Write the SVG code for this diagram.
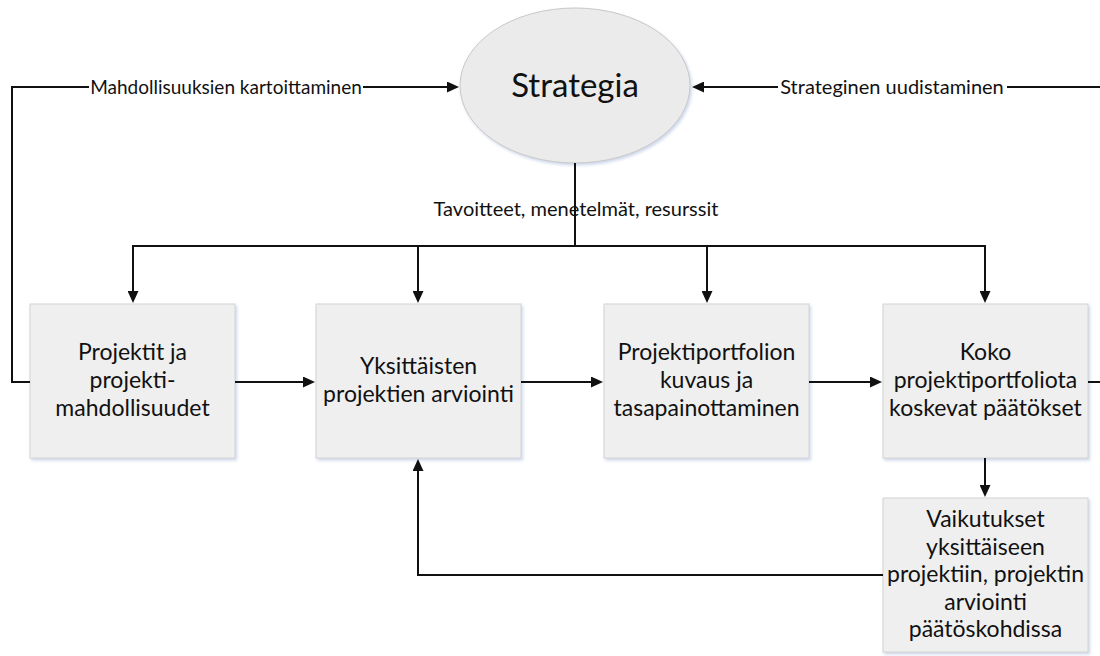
<svg xmlns="http://www.w3.org/2000/svg" width="1100" height="656" viewBox="0 0 1100 656">
  <style>
    .box { fill: #efefef; stroke: #d4d4d4; stroke-width: 1; filter: url(#shade); }
    .oval { fill: #ebebeb; stroke: #c8c8c8; stroke-width: 1; filter: url(#shade); }
    .t { font-family: Lato, "Open Sans", "Liberation Sans", sans-serif; fill: #111; text-anchor: middle; }
    .node { font-size: 23px; }
    .lbl { font-size: 20px; }
    .lbl-s { font-size: 19px; }
    .title { font-size: 33px; }
    .wire { fill: none; stroke: #111; stroke-width: 2; }
    .arrow { marker-end: url(#head); }
  </style>
  <defs>
    <filter id="shade" x="-10%" y="-10%" width="125%" height="125%">
      <feDropShadow dx="1.5" dy="2" stdDeviation="1.5" flood-color="#8fa6d0" flood-opacity="0.45"/>
    </filter>
    <marker id="head" viewBox="0 0 12 11" refX="6" refY="5.5" markerWidth="12" markerHeight="11" markerUnits="userSpaceOnUse" orient="auto">
      <path d="M0,0 L12,5.5 L0,11 Z" fill="#111"/>
    </marker>
  </defs>

  <rect width="1100" height="656" fill="#fff"/>

  <!-- nodes -->
  <g id="strategia">
    <ellipse class="oval" cx="575" cy="85.5" rx="115" ry="77.5"/>
    <text class="t title" x="575" y="97">Strategia</text>
  </g>

  <g id="projektit">
    <rect class="box" x="30" y="304" width="205" height="154"/>
    <text class="t node" x="132.5" y="360">Projektit ja</text>
    <text class="t node" x="132.5" y="388">projekti-</text>
    <text class="t node" x="132.5" y="416">mahdollisuudet</text>
  </g>

  <g id="arviointi">
    <rect class="box" x="316" y="304" width="205" height="154"/>
    <text class="t node" x="418.5" y="374">Yksittäisten</text>
    <text class="t node" x="418.5" y="402">projektien arviointi</text>
  </g>

  <g id="portfolio">
    <rect class="box" x="604" y="304" width="205" height="154"/>
    <text class="t node" x="706.5" y="360">Projektiportfolion</text>
    <text class="t node" x="706.5" y="388">kuvaus ja</text>
    <text class="t node" x="706.5" y="416">tasapainottaminen</text>
  </g>

  <g id="paatokset">
    <rect class="box" x="883" y="304" width="205" height="154"/>
    <text class="t node" x="985.5" y="360">Koko</text>
    <text class="t node" x="985.5" y="388">projektiportfoliota</text>
    <text class="t node" x="985.5" y="416">koskevat päätökset</text>
  </g>

  <g id="vaikutukset">
    <rect class="box" x="883" y="498" width="205" height="154"/>
    <text class="t node" x="985.5" y="527">Vaikutukset</text>
    <text class="t node" x="985.5" y="554.5">yksittäiseen</text>
    <text class="t node" x="985.5" y="582">projektiin, projektin</text>
    <text class="t node" x="985.5" y="609.5">arviointi</text>
    <text class="t node" x="985.5" y="637">päätöskohdissa</text>
  </g>

  <!-- connectors -->
  <g id="connectors">
    <!-- feedback from the first box up to the strategy -->
    <path class="wire arrow" d="M30,382 H12 V87 H453"/>
    <rect x="89" y="74" width="274" height="26" fill="#fff"/>
    <text class="t lbl-s" x="226" y="93.5">Mahdollisuuksien kartoittaminen</text>

    <!-- strategic renewal coming back from the decisions -->
    <path class="wire arrow" d="M1088,382 H1102 V87 H698"/>
    <rect x="778" y="74" width="229" height="26" fill="#fff"/>
    <text class="t lbl" x="892" y="94">Strateginen uudistaminen</text>

    <!-- strategy down to the bus -->
    <text class="t lbl" x="576" y="216">Tavoitteet, menetelmät, resurssit</text>
    <path class="wire" d="M575,163 V246"/>
    <path class="wire arrow" d="M576,246 H133 V297"/>
    <path class="wire arrow" d="M418,246 V297"/>
    <path class="wire arrow" d="M574,246 H707 V297"/>
    <path class="wire arrow" d="M706,246 H985 V297"/>

    <!-- main flow between the boxes -->
    <path class="wire arrow" d="M235,382 H309"/>
    <path class="wire arrow" d="M521,382 H597"/>
    <path class="wire arrow" d="M809,382 H876"/>

    <!-- decisions to effects, effects back to evaluation -->
    <path class="wire arrow" d="M985,458 V491"/>
    <path class="wire arrow" d="M883,575 H418 V465"/>
  </g>
</svg>
